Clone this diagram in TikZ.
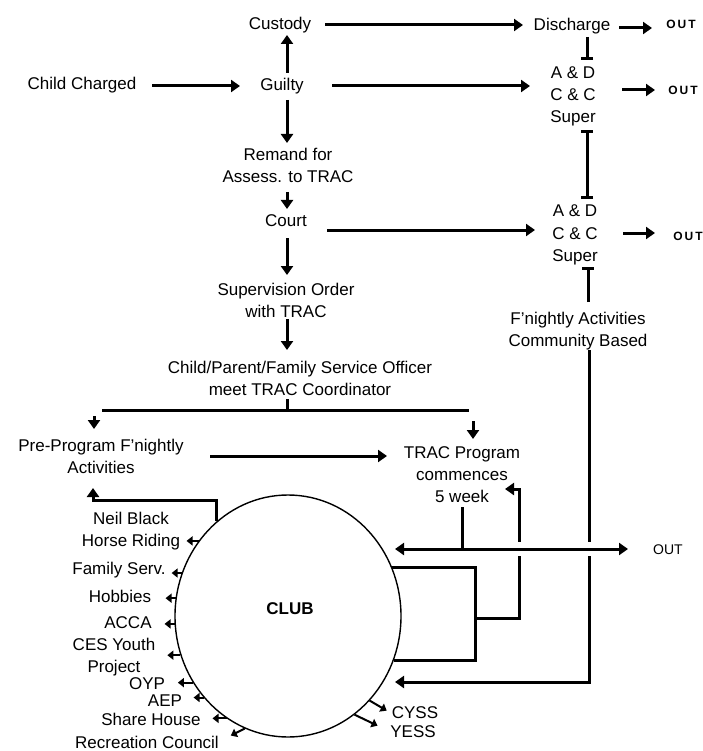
\documentclass[tikz,border=0pt]{standalone}
\usepackage{fontspec}
\setmainfont{Liberation Sans}
\usetikzlibrary{arrows.meta,shapes.geometric}
\begin{document}
\begin{tikzpicture}[x=1pt,y=-1pt,
  txt/.style={inner sep=0pt, anchor=base, align=center, font=\fontsize{17}{22}\selectfont},
  outbold/.style={inner sep=0pt, anchor=base, font=\bfseries\fontsize{12}{14}\selectfont},
  outreg/.style={inner sep=0pt, anchor=base, font=\fontsize{14}{16}\selectfont},
  wire/.style={line width=3pt},
  conn/.style={wire, -{Triangle[length=9pt,width=12pt]}},
  twoway/.style={wire, {Triangle[length=9pt,width=12pt]}-{Triangle[length=9pt,width=12pt]}},
  barend/.style={wire, -{Bar[width=12pt]}},
  barboth/.style={wire, {Bar[width=12pt]}-{Bar[width=12pt]}},
  feed/.style={line width=2pt, -{Triangle[length=6pt,width=9pt]}},
]
\useasboundingbox (0,0) rectangle (702,751);

% ---------- nodes (multi-line nodes: base = last line) ----------
\node[txt] (custody)   at (280,29.5) {Custody};
\node[txt] (child)     at (82,90)    {Child Charged};
\node[txt] (guilty)    at (282,91)   {Guilty};
\node[txt] (discharge) at (572,31)   {Discharge};
\node[outbold] (out1)  at (681,29)   {O\kern2pt U\kern2pt T};
\node[txt] (ad1)       at (573,123)  {A \& D\\C \& C\\Super};
\node[outbold] (out2)  at (683,95)   {O\kern2pt U\kern2pt T};
\node[txt] (remand)    at (288,183)  {Remand for\\Assess. to TRAC};
\node[txt] (court)     at (286,226)  {Court};
\node[txt] (ad2)       at (575,261)  {A \& D\\C \& C\\Super};
\node[outbold] (out3)  at (688,240)  {O\kern2pt U\kern2pt T};
\node[txt] (superv)    at (286,317)  {Supervision Order\\with TRAC};
\node[txt] (meet)      at (300,395)  {Child/Parent/Family Service Officer\\meet TRAC Coordinator};
\node[txt] (fnight)    at (578,346)  {F'nightly Activities\\Community Based};
\node[txt] (pre)       at (101,473)  {Pre-Program F'nightly\\Activities};
\node[txt] (trac)      at (462,502)  {TRAC Program\\commences\\5 week};
\node[outreg] (out4)   at (668,554)  {OUT};

\node[ellipse, draw, line width=1.4pt, minimum width=226pt, minimum height=242pt, inner sep=0pt] (club) at (288,616) {};
\node[inner sep=0pt, anchor=base, font=\bfseries\fontsize{17}{20}\selectfont] (clubtxt) at (290,614) {CLUB};

\node[txt] (neil)    at (131,546) {Neil Black\\Horse Riding};
\node[txt] (family)  at (119,574) {Family Serv.};
\node[txt] (hobbies) at (120,602) {Hobbies};
\node[txt] (acca)    at (128,628) {ACCA};
\node[txt] (ces)     at (114,672) {CES Youth\\Project};
\node[txt] (oyp)     at (147,689) {OYP};
\node[txt] (aep)     at (165,706) {AEP};
\node[txt] (share)   at (151,725) {Share House};
\node[txt] (recr)    at (147,748) {Recreation Council};
\node[txt] (cyss)    at (415,718) {CYSS};
\node[txt] (yess)    at (413,737) {YESS};

% ---------- main column ----------
\draw[conn] (152,86) -- (240,86);
\draw[conn] (287,73) -- (287,35);
\draw[conn] (287,100) -- (287,143);
\draw[conn] (287,192) -- (287,209);
\draw[conn] (287,238) -- (287,275);
\draw[conn] (287,319) -- (287,350);

% ---------- to the right column ----------
\draw[conn] (325,25) -- (523,25);
\draw[conn] (332,86) -- (530,86);
\draw[conn] (327,230) -- (535,230);
\draw[conn] (619,28) -- (652,28);
\draw[conn] (622,90) -- (655,90);
\draw[conn] (623,233) -- (655,233);
\draw[barend] (587,37) -- (587,60);
\draw[barboth] (587,130) -- (587,199);
\draw[barend] (588,302) -- (588,267);

% ---------- split after coordinator ----------
\draw[wire] (287,399) -- (287,410);
\draw[wire] (102,410) -- (469,410);
\draw[conn] (94,416) -- (94,429);
\draw[conn] (473,421) -- (473,439);
\draw[conn] (210,456) -- (387,456);

% ---------- club feedback ----------
\coordinate (ppc) at (93,500);
\draw[conn] (club.127) |- (ppc) -- (93,488);

\draw[conn] (589,350) |- (395,682);
\coordinate (lt) at (475,568);
\draw[wire] (club.25) -- (club.25 -| lt) -- (lt |- club.-23) -- (club.-23);
\draw[conn] (475,618) -| (519,489) -- (505,489);

\draw[white, line width=14pt] (400,549) -- (610,549);
\draw[twoway] (395,549) -- (628,549);
\draw[wire] (462,507) -- (462,549);

% ---------- small arrows round the club ----------
\foreach \a/\dx/\dy in {140/-12/0, 158/-10/0, 171/-10/0, 184/-10/0, 200/-13/0, 215/-15/0, 224/-10/0, 239/-14/0, 249/-14/7}
  \draw[feed] (club.\a) -- ++(\dx,\dy);
\draw[feed] (club.314) -- ++(17,10);
\draw[feed] (club.304) -- ++(23,11);
\end{tikzpicture}
\end{document}
